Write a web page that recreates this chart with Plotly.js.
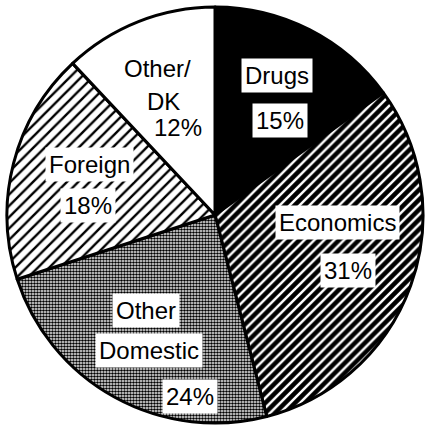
<!DOCTYPE html>
<html>
<head>
<meta charset="utf-8">
<script src="https://cdn.plot.ly/plotly-3.0.1.min.js"></script>
<style>html,body{margin:0;padding:0;background:#fff;}#chart{width:425px;height:425px;}</style>
</head>
<body>
<div id="chart"></div>
<script>
// Data
var labels = ['Drugs', 'Economics', 'Other Domestic', 'Foreign', 'Other/DK'];
var values = [15, 31, 24, 18, 12];
var labelLines = [['Drugs'], ['Economics'], ['Other', 'Domestic'], ['Foreign'], ['Other/', 'DK']];

// Styles
var bgColors = ['#000000', '#000000', '#ffffff', '#ffffff', '#ffffff'];
var fgColors = ['#000000', '#ffffff', '#000000', '#000000', '#ffffff'];
var shapes = ['', '/', '.', '/', ''];
var sizes = [8, 7, 3, 8, 8];
var solidities = [0.3, 0.35, 0.6, 0.3, 0.3];

// Label placement (pixel centers in the 425x425 page) for each text line, then the percentage
var namePos = [[[277, 75]], [[337, 222]], [[146, 310], [149, 350]], [[89, 165]], [[157, 68], [163, 101]]];
var pctPos = [[280, 121], [348, 270], [190, 396], [88, 206], [178, 127]];
var boxed = [true, true, true, true, false];

var W = 425, H = 425;
var annotations = [];
function addAnn(txt, p, box) {
  annotations.push({
    text: txt, x: p[0] / W, y: 1 - p[1] / H, xref: 'paper', yref: 'paper',
    xanchor: 'center', yanchor: 'middle', showarrow: false,
    font: {family: 'Liberation Sans, Arial, sans-serif', size: 24, color: '#000'},
    bgcolor: box ? '#ffffff' : 'rgba(0,0,0,0)', borderpad: box ? 3 : 0
  });
}
for (var i = 0; i < labels.length; i++) {
  for (var j = 0; j < labelLines[i].length; j++) addAnn(labelLines[i][j], namePos[i][j], boxed[i]);
  addAnn(values[i] + '%', pctPos[i], boxed[i]);
}

var trace = {
  type: 'pie',
  labels: labels,
  values: values,
  sort: false,
  direction: 'clockwise',
  rotation: 0,
  textinfo: 'none',
  hoverinfo: 'label+percent',
  domain: {x: [7 / W, 423 / W], y: [2 / H, 418 / H]},
  marker: {
    colors: bgColors,
    line: {color: '#000', width: 3},
    pattern: {shape: shapes, bgcolor: bgColors, fgcolor: fgColors, size: sizes, solidity: solidities, fillmode: 'replace'}
  }
};

Plotly.newPlot('chart', [trace], {
  width: W, height: H,
  margin: {l: 0, r: 0, t: 0, b: 0},
  showlegend: false,
  paper_bgcolor: '#fff',
  annotations: annotations
}, {displayModeBar: false, staticPlot: true});
</script>
</body>
</html>
